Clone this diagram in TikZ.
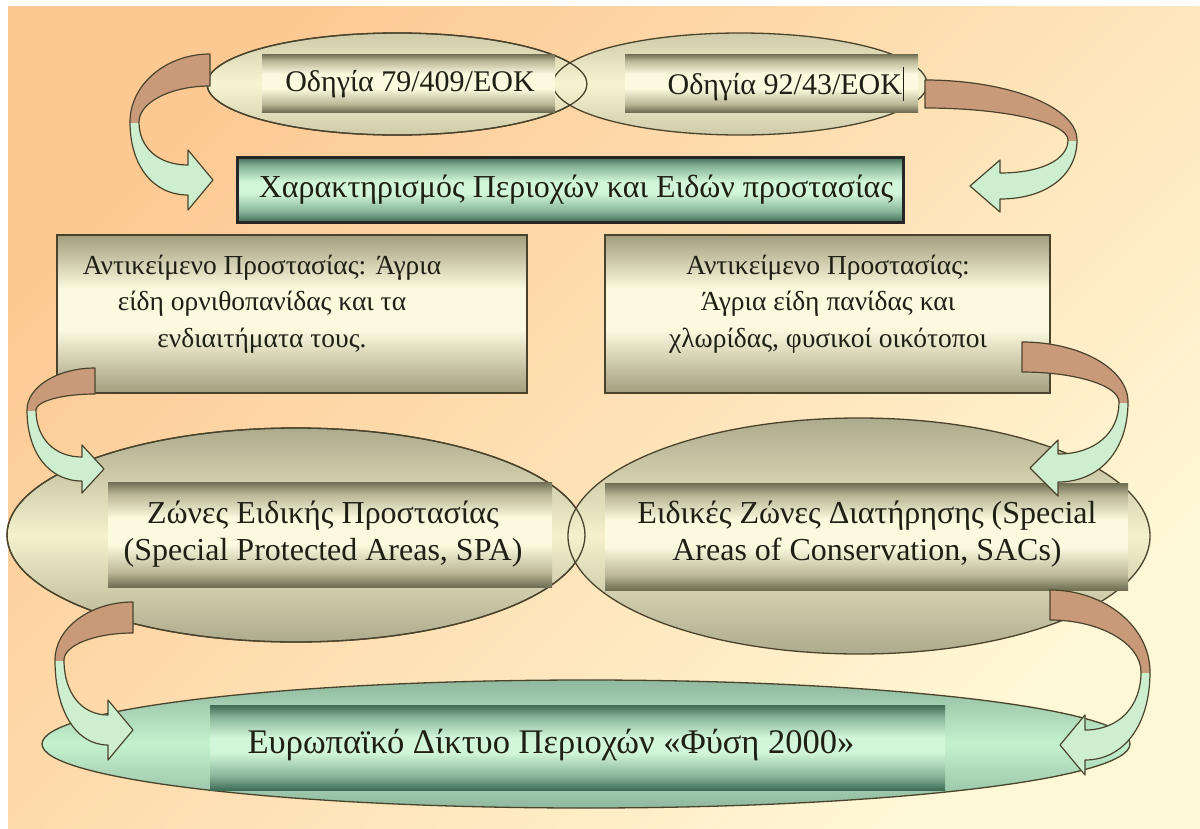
\documentclass[tikz,border=0pt]{standalone}
\usepackage{fontspec}
\setmainfont{Liberation Serif}
\usetikzlibrary{shapes.geometric}

\definecolor{bgA}{HTML}{FDC993}
\definecolor{bgB}{HTML}{FFF8D6}
\definecolor{olD}{HTML}{6F6D52}
\definecolor{olM}{HTML}{BAB897}
\definecolor{crL}{HTML}{FBF9DE}
\definecolor{boxD}{HTML}{A29E7E}
\definecolor{elTop}{HTML}{ADAB8D}
\definecolor{elMid}{HTML}{F4F1CC}
\definecolor{smTop}{HTML}{CFCBA8}
\definecolor{smMid}{HTML}{F7F4D2}
\definecolor{tlD}{HTML}{3F6B55}
\definecolor{tlM}{HTML}{86B498}
\definecolor{tlL}{HTML}{D2F6DA}
\definecolor{mintE}{HTML}{8FB89E}
\definecolor{mintL}{HTML}{C4F2CE}
\definecolor{brownA}{HTML}{C99A7A}
\definecolor{mintA}{HTML}{CDEFCF}
\definecolor{lineC}{HTML}{4A432C}
\definecolor{txt}{HTML}{1F1F14}

\pgfdeclareverticalshading{barsh}{100bp}{color(0bp)=(olD); color(25bp)=(olD); color(32bp)=(olM); color(45bp)=(crL); color(58bp)=(crL); color(69bp)=(olM); color(75bp)=(olD); color(100bp)=(olD)}
\pgfdeclareverticalshading{tealsh}{100bp}{color(0bp)=(tlD); color(25bp)=(tlD); color(33bp)=(tlM); color(47bp)=(tlL); color(56bp)=(tlL); color(68bp)=(tlM); color(75bp)=(tlD); color(100bp)=(tlD)}
\pgfdeclareverticalshading{boxsh}{100bp}{color(0bp)=(boxD); color(25bp)=(boxD); color(45bp)=(crL); color(58bp)=(crL); color(75bp)=(boxD); color(100bp)=(boxD)}
\pgfdeclareverticalshading{ellsh}{100bp}{color(0bp)=(elTop); color(25bp)=(elTop); color(50bp)=(elMid); color(75bp)=(elTop); color(100bp)=(elTop)}
\pgfdeclareverticalshading{smsh}{100bp}{color(0bp)=(smTop); color(25bp)=(smTop); color(50bp)=(smMid); color(75bp)=(smTop); color(100bp)=(smTop)}
\pgfdeclareverticalshading{mintsh}{100bp}{color(0bp)=(mintE); color(25bp)=(mintE); color(50bp)=(mintL); color(75bp)=(mintE); color(100bp)=(mintE)}

\tikzset{
  ovalshape/.style={ellipse, inner sep=0pt, outer sep=0pt, draw=lineC, line width=1.3pt},
  smoval/.style={ovalshape, shading=smsh},
  bigoval/.style={ovalshape, shading=ellsh},
  mintoval/.style={ovalshape, shading=mintsh},
  barbox/.style={rectangle, inner sep=0pt, outer sep=0pt, shading=barsh},
  tealbar/.style={rectangle, inner sep=0pt, outer sep=0pt, shading=tealsh},
  panel/.style={rectangle, inner sep=0pt, outer sep=0pt, shading=boxsh, draw=lineC, line width=2pt},
  lbl/.style={inner sep=0pt, text=txt, align=center},
  arrline/.style={draw=lineC, line width=1.2pt, line join=round},
}

% #1 sx, #2 ty, #3 band thickness, #4 vertex x, #5 vertex y, #6 tip x, #7 tip y, #8 head base x, #9 head half height
\newcommand\curvarrow[9]{%
 \pgfmathsetmacro\aD{(#4<#1)?1:-1}%
 \pgfmathsetmacro\aSw{0.5*#9}%
 \pgfmathsetmacro\aVi{#4+9*\aD}%
 \pgfmathsetmacro\aTb{#2+#3}%
 \pgfmathsetmacro\aLo{#7+\aSw}%
 \pgfmathsetmacro\aHi{#7-\aSw}%
 \def\aPath{(#1,#2) .. controls ({#1+(#4-#1)*0.55},#2) and (#4,{#2+(#5-#2)*0.45}) .. (#4,#5) .. controls (#4,{#5+(\aLo-#5)*0.6}) and ({#4+(#8-#4)*0.4},\aLo) .. (#8,\aLo) -- (#8,{#7+#9}) -- (#6,#7) -- (#8,{#7-#9}) -- (#8,\aHi) .. controls ({\aVi+(#8-\aVi)*0.4},\aHi) and (\aVi,{#5+(\aHi-#5)*0.6}) .. (\aVi,#5) .. controls (\aVi,{\aTb+(#5-\aTb)*0.45}) and ({#1+(\aVi-#1)*0.55},\aTb) .. (#1,\aTb) -- cycle}%
 \fill[mintA] \aPath;
 \begin{scope}\clip (0,0) rectangle (1200,#5); \fill[brownA] \aPath; \end{scope}
 \draw[arrline] \aPath;
}

\begin{document}
\begin{tikzpicture}[x=1pt,y=-1pt]
\useasboundingbox (0,0) rectangle (1200,828);
\fill[white] (0,0) rectangle (1200,828);
\shade[left color=bgA, right color=bgB, shading angle=45] (8,6) rectangle (1200,828);

% top ovals
\node[smoval, minimum width=380pt, minimum height=102pt] (e1) at (397,84) {};
\node[smoval, minimum width=374pt, minimum height=102pt] (e2) at (740,84) {};
\draw[lineC, line width=1.3pt] (e1.center) ellipse [x radius=190, y radius=51];
\node[barbox, minimum width=293pt, minimum height=58pt] (b1) at (408.5,83) {};
\node[barbox, minimum width=293pt, minimum height=58pt] (b2) at (771.5,83) {};
\node[lbl, font=\fontsize{30}{34}\selectfont] (t1) at (410,84) {Οδηγία 79/409/ΕΟΚ};
\node[lbl, font=\fontsize{30}{34}\selectfont] (t2) at (786,84) {Οδηγία 92/43/ΕΟΚ\hspace{1pt}\rule[-6pt]{1.3pt}{34pt}};

% characterisation
\node[tealbar, draw=black!85, line width=3pt, minimum width=666pt, minimum height=65pt] (c) at (570,189.5) {};
\node[lbl, font=\fontsize{32}{36}\selectfont] (tc) at (576,190) {Χαρακτηρισμός Περιοχών και Ειδών προστασίας};

% object panels
\node[panel, minimum width=470pt, minimum height=158pt] (L) at (292,314) {};
\node[panel, minimum width=445pt, minimum height=158pt] (R) at (827.5,314) {};
\node[lbl, font=\fontsize{27.5}{36.5}\selectfont] (tL) at (262,304) {Αντικείμενο Προστασίας: Άγρια\\είδη ορνιθοπανίδας και τα\\ενδιαιτήματα τους.};
\node[lbl, font=\fontsize{27.5}{36.5}\selectfont] (tR) at (828,304) {Αντικείμενο Προστασίας:\\Άγρια είδη πανίδας και\\χλωρίδας, φυσικοί οικότοποι};

% zones
\node[bigoval, minimum width=578pt, minimum height=214pt] (E3) at (296,535) {};
\node[bigoval, minimum width=582pt, minimum height=236pt] (E4) at (859,536) {};
\draw[lineC, line width=1.3pt] (E3.center) ellipse [x radius=289, y radius=107];
\node[barbox, minimum width=444pt, minimum height=105pt] (b3) at (330,534.5) {};
\node[barbox, minimum width=523pt, minimum height=107pt] (b4) at (866.5,536.5) {};
\node[lbl, font=\fontsize{32}{37}\selectfont] (t3) at (323,534) {Ζώνες Ειδικής Προστασίας\\(Special Protected Areas, SPA)};
\node[lbl, font=\fontsize{32}{37}\selectfont] (t4) at (867,534) {Ειδικές Ζώνες Διατήρησης (Special\\Areas of Conservation, SACs)};

% network
\node[mintoval, minimum width=1088pt, minimum height=128pt] (E5) at (586,744) {};
\node[tealbar, minimum width=735pt, minimum height=85pt] (b5) at (577.5,747.5) {};
\node[lbl, font=\fontsize{34.5}{38}\selectfont] (t5) at (551,745) {Ευρωπαϊκό Δίκτυο Περιοχών «Φύση 2000»};

% curved block arrows
\curvarrow{210}{54}{32}{130}{122}{213}{180}{188}{30}
\curvarrow{925}{80}{28}{1077}{140}{970}{186}{1000}{26}
\curvarrow{95}{368}{26}{27}{410}{104}{469}{82}{24}
\curvarrow{1022}{342}{30}{1128}{402}{1030}{468}{1058}{28}
\curvarrow{133}{602}{31}{55}{660}{133}{730}{108}{30}
\curvarrow{1050}{590}{30}{1150}{672}{1060}{745}{1085}{30}
\end{tikzpicture}
\end{document}
